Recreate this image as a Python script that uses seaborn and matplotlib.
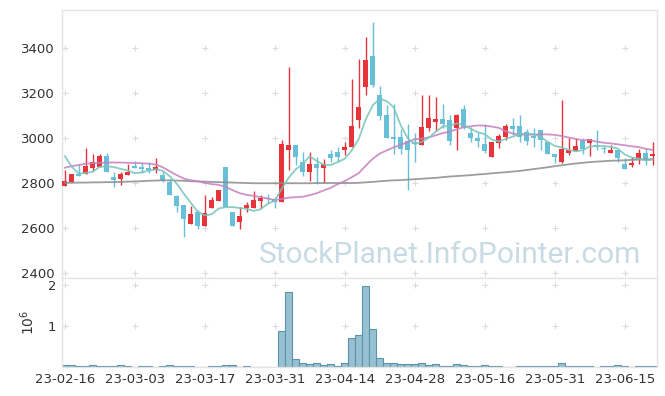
import numpy as np
import pandas as pd
import seaborn as sns
import matplotlib.pyplot as plt

# daily candles (trading day index 0..84)
opens = [2788, 2806, 2842, 2839, 2865, 2870, 2920, 2827, 2817, 2837,
         2876, 2871, 2868, 2857, 2836, 2806, 2742, 2702, 2618, 2672,
         2610, 2690, 2722, 2871, 2671, 2625, 2688, 2688, 2721, 2735,
         2731, 2717, 2947, 2969, 2895, 2850, 2884, 2868, 2927, 2939,
         2947, 2962, 3080, 3228, 3364, 3191, 3102, 3003, 3005, 2985,
         2984, 2970, 3046, 3072, 3084, 3079, 3046, 3129, 3021, 3001,
         2972, 2917, 2979, 3006, 3053, 3053, 3028, 3010, 3036, 2984,
         2929, 2895, 2932, 2944, 2988, 2979, 2969, 2957, 2935, 2947,
         2884, 2880, 2907, 2932, 2920]
highs = [2858, 2842, 2883, 2954, 2927, 2929, 2933, 2850, 2851, 2883,
         2898, 2888, 2894, 2912, 2855, 2816, 2745, 2702, 2697, 2678,
         2745, 2738, 2770, 2871, 2671, 2692, 2717, 2764, 2747, 2750,
         2738, 2990, 3314, 2969, 2936, 2936, 2917, 2905, 2947, 2959,
         2981, 3261, 3350, 3447, 3514, 3232, 3147, 3151, 3040, 3062,
         3021, 3191, 3191, 3181, 3150, 3102, 3105, 3147, 3050, 3028,
         3061, 2984, 3016, 3062, 3087, 3102, 3040, 3046, 3036, 2984,
         2929, 3169, 2999, 2999, 2999, 2996, 3036, 2969, 2969, 2947,
         2910, 2917, 2951, 2956, 2981]
lows = [2788, 2805, 2832, 2839, 2855, 2870, 2850, 2784, 2790, 2837,
        2865, 2844, 2845, 2845, 2806, 2747, 2672, 2560, 2618, 2597,
        2610, 2690, 2722, 2692, 2607, 2594, 2672, 2688, 2687, 2710,
        2687, 2717, 2858, 2880, 2833, 2810, 2794, 2800, 2895, 2895,
        2924, 2962, 3043, 3191, 3228, 3078, 3001, 2927, 2929, 2769,
        2895, 2970, 3033, 3033, 3043, 2969, 2947, 3039, 2984, 2961,
        2932, 2917, 2954, 2990, 3013, 2984, 2970, 2961, 2947, 2928,
        2890, 2887, 2924, 2944, 2929, 2921, 2947, 2932, 2932, 2892,
        2864, 2872, 2883, 2881, 2880]
closes = [2809, 2840, 2833, 2876, 2892, 2920, 2850, 2815, 2840, 2849,
          2867, 2863, 2857, 2871, 2810, 2747, 2699, 2640, 2662, 2610,
          2669, 2724, 2769, 2692, 2609, 2653, 2702, 2724, 2733, 2727,
          2717, 2973, 2969, 2917, 2850, 2884, 2868, 2884, 2913, 2917,
          2960, 3053, 3136, 3347, 3236, 3099, 3001, 2996, 2950, 2948,
          2972, 3048, 3089, 3084, 3062, 2988, 3102, 3050, 3001, 2988,
          2944, 2984, 3009, 3053, 3040, 3006, 2987, 3001, 2991, 2928,
          2917, 2951, 2947, 2964, 2951, 2996, 2961, 2950, 2947, 2913,
          2864, 2890, 2932, 2907, 2929]
volumes = [48000, 48000, 24000, 24000, 48000, 24000, 24000, 24000, 48000, 24000,
           5000, 24000, 24000, 5000, 24000, 48000, 24000, 24000, 24000, 5000,
           5000, 24000, 24000, 48000, 48000, 5000, 24000, 5000, 5000, 5000,
           5000, 880000, 1820000, 200000, 105000, 80000, 97000, 56000, 80000, 24000,
           97000, 700000, 775000, 1970000, 920000, 218000, 97000, 97000, 73000, 73000,
           73000, 97000, 48000, 73000, 24000, 24000, 73000, 48000, 24000, 24000,
           48000, 24000, 24000, 5000, 5000, 24000, 24000, 24000, 24000, 24000,
           24000, 97000, 24000, 24000, 24000, 24000, 5000, 24000, 24000, 48000,
           24000, 5000, 24000, 24000, 24000]

# moving averages as drawn
ma5 = [2920, 2872, 2842, 2845, 2850, 2872, 2874, 2871, 2863, 2855,
       2844, 2847, 2855, 2861, 2854, 2830, 2797, 2753, 2712, 2672,
       2656, 2661, 2687, 2693, 2693, 2689, 2685, 2676, 2684, 2708,
       2721, 2775, 2824, 2861, 2885, 2919, 2898, 2881, 2880, 2893,
       2908, 2945, 2996, 3083, 3146, 3174, 3164, 3136, 3056, 2999,
       2973, 2983, 3001, 3028, 3051, 3054, 3065, 3057, 3041, 3026,
       3017, 2993, 2985, 2996, 3006, 3018, 3019, 3017, 3005, 2983,
       2965, 2958, 2947, 2941, 2946, 2962, 2964, 2964, 2961, 2953,
       2927, 2913, 2909, 2901, 2904]
ma20 = [2868, 2875, 2880, 2886, 2888, 2890, 2891, 2891, 2891, 2890,
        2889, 2888, 2886, 2882, 2870, 2852, 2835, 2820, 2812, 2808,
        2801, 2795, 2792, 2782, 2768, 2755, 2747, 2743, 2738, 2731,
        2724, 2729, 2735, 2737, 2739, 2746, 2755, 2767, 2779, 2795,
        2809, 2826, 2844, 2877, 2908, 2931, 2945, 2959, 2970, 2981,
        2994, 2997, 3003, 3012, 3022, 3028, 3039, 3048, 3052, 3056,
        3055, 3051, 3045, 3030, 3020, 3016, 3015, 3015, 3017, 3016,
        3014, 3009, 3002, 2996, 2990, 2991, 2984, 2979, 2976, 2972,
        2968, 2963, 2960, 2952, 2947]
ma60 = [2801, 2801, 2802, 2802, 2803, 2803, 2804, 2804, 2805, 2806,
        2807, 2808, 2810, 2811, 2812, 2812, 2811, 2810, 2808, 2807,
        2806, 2805, 2804, 2803, 2802, 2801, 2800, 2799, 2799, 2799,
        2799, 2799, 2799, 2799, 2799, 2799, 2800, 2800, 2800, 2800,
        2800, 2800, 2801, 2803, 2805, 2808, 2810, 2812, 2813, 2815,
        2817, 2819, 2821, 2823, 2826, 2829, 2831, 2833, 2835, 2838,
        2840, 2843, 2846, 2848, 2851, 2854, 2858, 2862, 2866, 2870,
        2875, 2879, 2883, 2887, 2890, 2893, 2895, 2897, 2899, 2900,
        2901, 2903, 2904, 2905, 2906]

tick_pos = [0, 10, 20, 30, 40, 50, 60, 70, 80]
tick_labels = ['23-02-16', '23-03-03', '23-03-17', '23-03-31', '23-04-14',
               '23-04-28', '23-05-16', '23-05-31', '23-06-15']

df = pd.DataFrame({'open': opens, 'high': highs, 'low': lows, 'close': closes,
                   'vol': volumes, 'ma5': ma5, 'ma20': ma20, 'ma60': ma60})
df['idx'] = np.arange(len(df))
df['vol_m'] = df['vol'] / 1e6

RED = '#e8333a'
BLUE = '#68bfd8'
GRID = '#dcdcdc'
SPINE = '#e4e4e4'

sns.set_style('white')
plt.rcParams['font.family'] = ['DejaVu Sans']

fig = plt.figure(figsize=(6.65, 3.96), dpi=100)
ax = fig.add_axes([0.0932, 0.298, 0.8947, 0.6768])
axv = fig.add_axes([0.0932, 0.0732, 0.8947, 0.2247])

# grid crosses
yt = [2400, 2600, 2800, 3000, 3200, 3400]
gx, gy = np.meshgrid(tick_pos, yt)
ax.scatter(gx.ravel(), gy.ravel(), marker='+', s=22, color=GRID, linewidths=0.8, zorder=0)

# watermark
ax.text(0.652, 0.085, 'StockPlanet.InfoPointer.com', transform=ax.transAxes,
        ha='center', va='center', fontsize=21.5, color='#c8dbe5',
        family='Roboto', zorder=1)

# candles
colors = np.where(df['close'] >= df['open'], RED, BLUE)
ax.vlines(df['idx'], df['low'], df['high'], colors=colors, lw=1.0, zorder=2)
body = (df['close'] - df['open']).abs().clip(lower=5)
ax.bar(df['idx'], body, bottom=df[['open', 'close']].min(axis=1), width=0.68,
       color=colors, lw=0, zorder=3)

# moving averages
sns.lineplot(data=df, x='idx', y='ma60', color='#8c8c8c', lw=1.3, alpha=0.85, ax=ax, zorder=4)
sns.lineplot(data=df, x='idx', y='ma20', color='#c67fc0', lw=1.3, alpha=0.85, ax=ax, zorder=4)
sns.lineplot(data=df, x='idx', y='ma5', color='#79c4bb', lw=1.3, alpha=0.85, ax=ax, zorder=4)

ax.set_xlim(-0.4, 84.6)
ax.set_ylim(2378, 3569)
ax.set_yticks(yt)
ax.set_xticks(tick_pos)
ax.set_xticklabels([])
ax.set_xlabel('')
ax.set_ylabel('')
ax.tick_params(length=0, labelsize=9.5, labelcolor='#333333', pad=5)

# volume
gx2, gy2 = np.meshgrid(tick_pos, [1, 2])
axv.scatter(gx2.ravel(), gy2.ravel(), marker='+', s=22, color=GRID, linewidths=0.8, zorder=0)
sns.barplot(data=df, x='idx', y='vol_m', native_scale=True, width=1.0, color='#97c1d2',
            saturation=1, edgecolor='#5b93ab', linewidth=0.8, ax=axv, zorder=2)
axv.set_xlim(-0.4, 84.6)
axv.set_ylim(0, 2.16)
axv.set_yticks([1, 2])
axv.set_yticklabels(['1', '2'])
axv.set_xticks(tick_pos)
axv.set_xticklabels(tick_labels)
axv.set_xlabel('')
axv.set_ylabel('$10^6$', fontsize=10, color='#333333', labelpad=8)
axv.tick_params(length=0, labelsize=9.5, labelcolor='#333333', pad=4)

for a in (ax, axv):
    for s in a.spines.values():
        s.set_color(SPINE)
        s.set_linewidth(1)

fig.savefig('out.png', dpi=100)
